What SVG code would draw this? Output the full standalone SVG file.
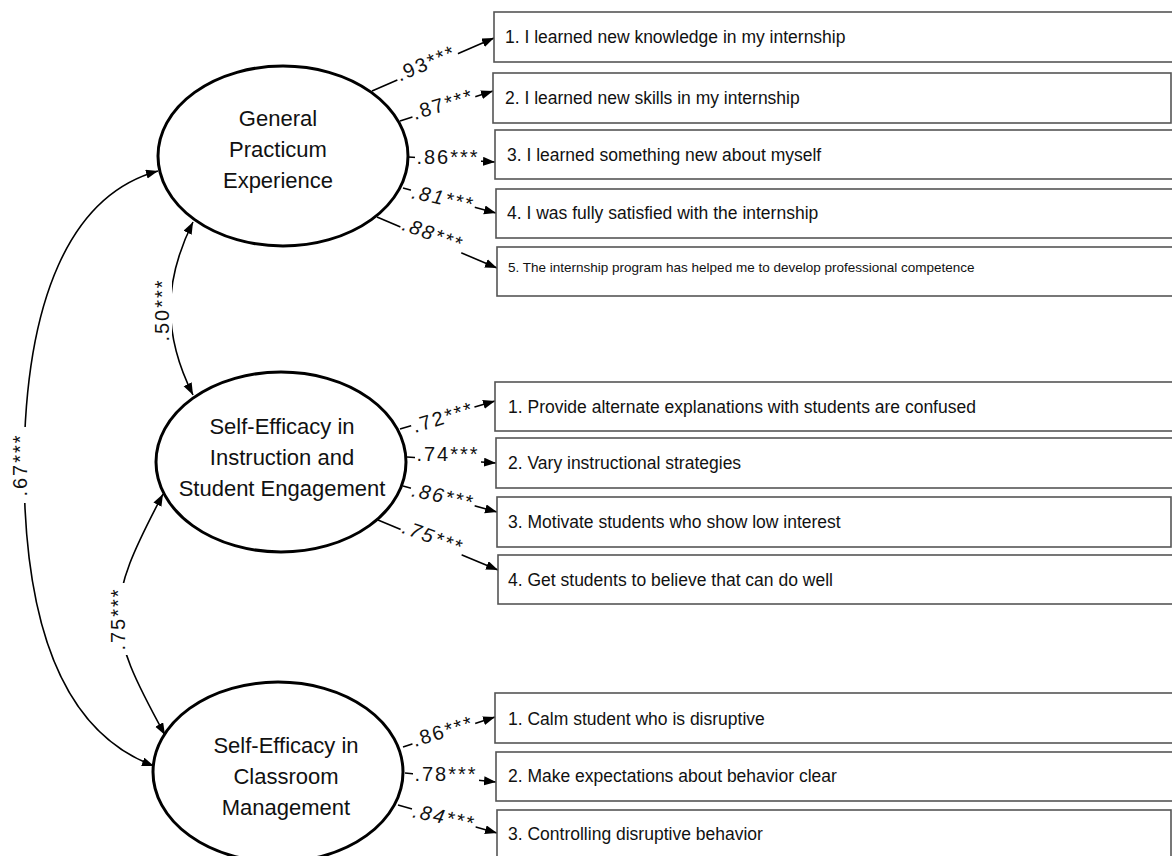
<svg xmlns="http://www.w3.org/2000/svg" width="1172" height="856" viewBox="0 0 1172 856">
<defs>
<marker id="ah" markerUnits="userSpaceOnUse" markerWidth="13" markerHeight="10" refX="12" refY="4.5" orient="auto-start-reverse">
<path d="M0,0 L12,4.5 L0,9 z" fill="#000"/>
</marker>
</defs>
<style>
.bg{fill:#fff}
.lat{fill:#fff;stroke:#000;stroke-width:3}
.ltxt{font-family:"Liberation Sans",Arial,sans-serif;font-size:22px;fill:#111;text-anchor:middle}
.box{fill:#fff;stroke:#555;stroke-width:1.6}
.btxt{font-family:"Liberation Sans",Arial,sans-serif;font-size:17.5px;fill:#111}
.small{font-size:13.5px}
.ln{fill:none;stroke:#000;stroke-width:1.6}
.lb{fill:#fff}
.lbl{font-family:"Liberation Sans",Arial,sans-serif;font-size:20px;fill:#111;text-anchor:middle;dominant-baseline:central;letter-spacing:2px}
.it{font-style:italic}
</style>
<rect class="bg" x="0" y="0" width="1172" height="856"/>

<g id="connectors">
<path class="ln" marker-end="url(#ah)" d="M372,91 L494,38"/>
<path class="ln" marker-end="url(#ah)" d="M400,121 L493,91"/>
<path class="ln" marker-end="url(#ah)" d="M408,157 L495,162"/>
<path class="ln" marker-end="url(#ah)" d="M403,188 L496,213"/>
<path class="ln" marker-end="url(#ah)" d="M377,217 L497,268"/>
<path class="ln" marker-end="url(#ah)" d="M400,429 L495,401"/>
<path class="ln" marker-end="url(#ah)" d="M407,457 L496,463"/>
<path class="ln" marker-end="url(#ah)" d="M403,486 L497,512"/>
<path class="ln" marker-end="url(#ah)" d="M378,520 L498,570"/>
<path class="ln" marker-end="url(#ah)" d="M403,747 L495,717"/>
<path class="ln" marker-end="url(#ah)" d="M405,773 L496,782"/>
<path class="ln" marker-end="url(#ah)" d="M398,805 L497,833"/>
<path class="ln" marker-start="url(#ah)" marker-end="url(#ah)" d="M193,222 C163,282 163,335 193,395"/>
<path class="ln" marker-start="url(#ah)" marker-end="url(#ah)" d="M163,494 C104,606 104,624 165,735"/>
<path class="ln" marker-start="url(#ah)" marker-end="url(#ah)" d="M158,171 C70,195 25,300 24,466 C24,640 70,735 154,766"/>
<g transform="translate(426,63) rotate(-23)"><rect class="lb" x="-33" y="-10" width="66" height="20"/><text class="lbl">.93***</text></g>
<g transform="translate(443,104) rotate(-17)"><rect class="lb" x="-33" y="-10" width="66" height="20"/><text class="lbl">.87***</text></g>
<g transform="translate(448,157)"><rect class="lb" x="-33" y="-10" width="66" height="20"/><text class="lbl">.86***</text></g>
<g transform="translate(443,198) rotate(12)"><rect class="lb" x="-33" y="-10" width="66" height="20"/><text class="lbl it">.81***</text></g>
<g transform="translate(433,234) rotate(20)"><rect class="lb" x="-33" y="-10" width="66" height="20"/><text class="lbl it">.88***</text></g>
<g transform="translate(443,417) rotate(-17)"><rect class="lb" x="-33" y="-10" width="66" height="20"/><text class="lbl">.72***</text></g>
<g transform="translate(448,454)"><rect class="lb" x="-33" y="-10" width="66" height="20"/><text class="lbl">.74***</text></g>
<g transform="translate(443,496) rotate(12)"><rect class="lb" x="-33" y="-10" width="66" height="20"/><text class="lbl it">.86***</text></g>
<g transform="translate(433,537) rotate(20)"><rect class="lb" x="-33" y="-10" width="66" height="20"/><text class="lbl it">.75***</text></g>
<g transform="translate(443,731) rotate(-17)"><rect class="lb" x="-33" y="-10" width="66" height="20"/><text class="lbl">.86***</text></g>
<g transform="translate(446,774)"><rect class="lb" x="-33" y="-10" width="66" height="20"/><text class="lbl">.78***</text></g>
<g transform="translate(444,817) rotate(12)"><rect class="lb" x="-33" y="-10" width="66" height="20"/><text class="lbl it">.84***</text></g>
<g transform="translate(162,310) rotate(-90)"><rect class="lb" x="-36" y="-10" width="72" height="20"/><text class="lbl">.50***</text></g>
<g transform="translate(118,619) rotate(-90)"><rect class="lb" x="-36" y="-10" width="72" height="20"/><text class="lbl">.75***</text></g>
<g transform="translate(20,465) rotate(-90)"><rect class="lb" x="-38" y="-10" width="76" height="20"/><text class="lbl">.67***</text></g>
</g>

<g id="gpe">
<ellipse class="lat" cx="283" cy="156" rx="125" ry="90"/>
<text class="ltxt" x="278" y="126">General</text>
<text class="ltxt" x="278" y="157">Practicum</text>
<text class="ltxt" x="278" y="188">Experience</text>
</g>
<g id="sei">
<ellipse class="lat" cx="281" cy="462" rx="125" ry="90"/>
<text class="ltxt" x="282" y="434">Self-Efficacy in</text>
<text class="ltxt" x="282" y="465">Instruction and</text>
<text class="ltxt" x="282" y="496">Student Engagement</text>
</g>
<g id="secm">
<ellipse class="lat" cx="278" cy="772" rx="125" ry="90"/>
<text class="ltxt" x="286" y="753">Self-Efficacy in</text>
<text class="ltxt" x="286" y="784">Classroom</text>
<text class="ltxt" x="286" y="815">Management</text>
</g>

<g id="g1"><rect class="box" x="494" y="12" width="682" height="50"/><text class="btxt" x="505" y="43">1. I learned new knowledge in my internship</text></g>
<g id="g2"><rect class="box" x="493" y="73" width="678" height="50"/><text class="btxt" x="505" y="104">2. I learned new skills in my internship</text></g>
<g id="g3"><rect class="box" x="495" y="130" width="681" height="49"/><text class="btxt" x="507" y="161">3. I learned something new about myself</text></g>
<g id="g4"><rect class="box" x="496" y="189" width="680" height="49"/><text class="btxt" x="507" y="219">4. I was fully satisfied with the internship</text></g>
<g id="g5"><rect class="box" x="497" y="247" width="679" height="49"/><text class="btxt small" x="508" y="272">5. The internship program has helped me to develop professional competence</text></g>

<g id="i1"><rect class="box" x="495" y="382" width="681" height="49"/><text class="btxt" x="508" y="413">1. Provide alternate explanations with students are confused</text></g>
<g id="i2"><rect class="box" x="496" y="438" width="680" height="50"/><text class="btxt" x="508" y="469">2. Vary instructional strategies</text></g>
<g id="i3"><rect class="box" x="497" y="497" width="674" height="50"/><text class="btxt" x="508" y="528">3. Motivate students who show low interest</text></g>
<g id="i4"><rect class="box" x="498" y="555" width="678" height="49"/><text class="btxt" x="508" y="586">4. Get students to believe that can do well</text></g>

<g id="m1"><rect class="box" x="495" y="693" width="681" height="50"/><text class="btxt" x="508" y="725">1. Calm student who is disruptive</text></g>
<g id="m2"><rect class="box" x="496" y="752" width="680" height="49"/><text class="btxt" x="508" y="782">2. Make expectations about behavior clear</text></g>
<g id="m3"><rect class="box" x="497" y="810" width="674" height="52"/><text class="btxt" x="508" y="840">3. Controlling disruptive behavior</text></g>
</svg>
